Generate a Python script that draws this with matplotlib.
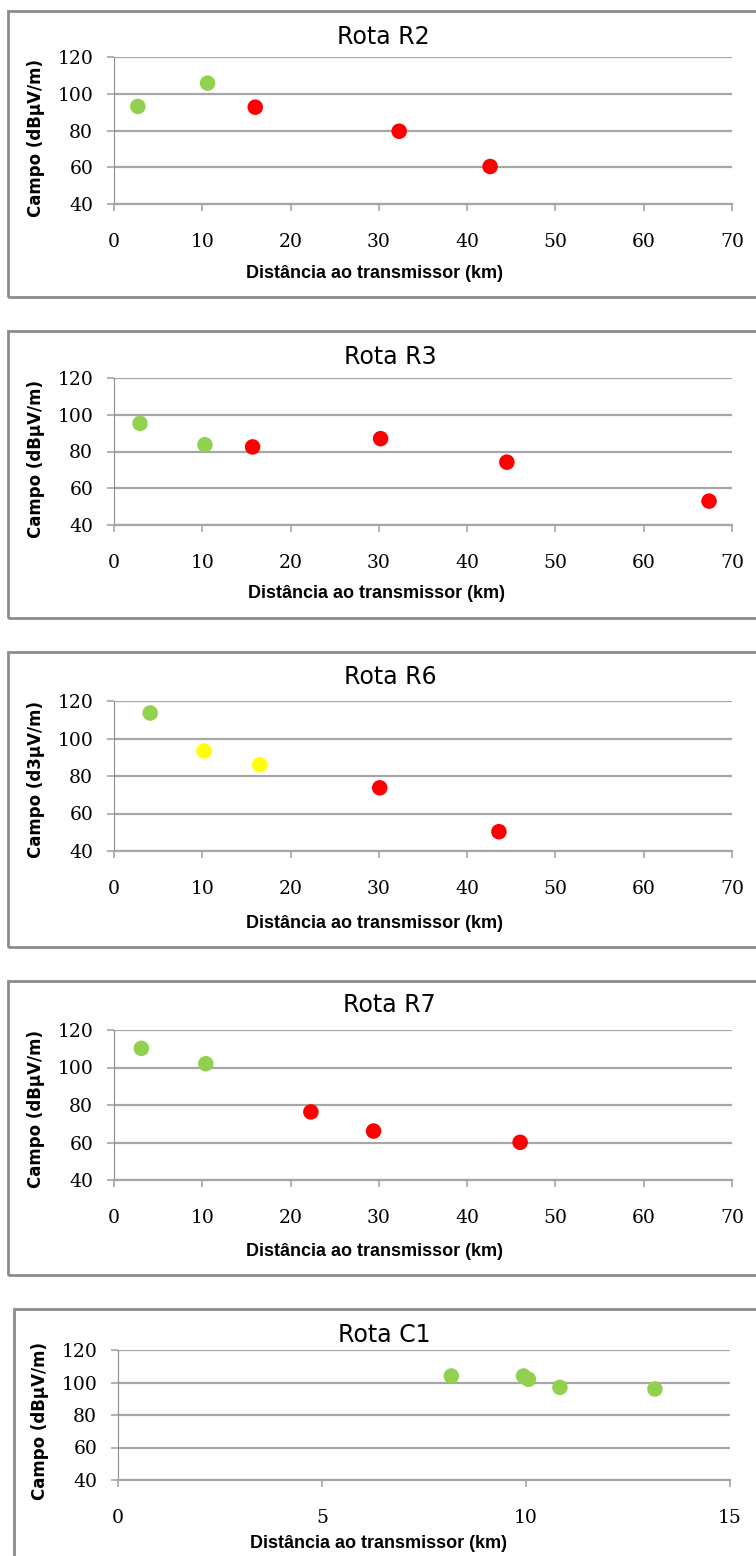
import matplotlib
matplotlib.use('Agg')
import matplotlib.pyplot as plt
from matplotlib.patches import Rectangle

W, H = 756, 1556

GREEN = '#92D050'
RED = '#FF0000'
YELLOW = '#FFFF00'

titles = ['Rota R2', 'Rota R3', 'Rota R6', 'Rota R7', 'Rota C1']
ylabels = ['Campo (dBµV/m)', 'Campo (dBµV/m)', 'Campo (d3µV/m)',
           'Campo (dBµV/m)', 'Campo (dBµV/m)']
xlabel = 'Distância ao transmissor (km)'

# distance (km), field (dBuV/m), point colour
r2_dist = [2.7, 10.6, 16.0, 32.3, 42.6]
r2_field = [93.1, 105.8, 92.7, 79.6, 60.4]
r2_cols = [GREEN, GREEN, RED, RED, RED]

r3_dist = [2.95, 10.3, 15.7, 30.2, 44.5, 67.4]
r3_field = [95.3, 83.7, 82.5, 87.0, 74.2, 53.0]
r3_cols = [GREEN, GREEN, RED, RED, RED, RED]

r6_dist = [4.1, 10.2, 16.5, 30.1, 43.6]
r6_field = [113.6, 93.4, 86.0, 73.7, 50.3]
r6_cols = [GREEN, YELLOW, YELLOW, RED, RED]

r7_dist = [3.1, 10.4, 22.3, 29.4, 46.0]
r7_field = [110.2, 102.0, 76.3, 66.1, 60.1]
r7_cols = [GREEN, GREEN, RED, RED, RED]

c1_dist = [8.17, 9.94, 10.06, 10.83, 13.16]
c1_field = [104.0, 104.0, 102.0, 97.0, 96.0]
c1_cols = [GREEN, GREEN, GREEN, GREEN, GREEN]

yticks = [40, 60, 80, 100, 120]
xticks_r = [0, 10, 20, 30, 40, 50, 60, 70]
xticks_c = [0, 5, 10, 15]

series = [(r2_dist, r2_field, r2_cols, xticks_r),
          (r3_dist, r3_field, r3_cols, xticks_r),
          (r6_dist, r6_field, r6_cols, xticks_r),
          (r7_dist, r7_field, r7_cols, xticks_r),
          (c1_dist, c1_field, c1_cols, xticks_c)]

# pixel layout: box(left, top, bottom), axes(left, right, top, bottom),
# title(x, y), xlabel(x, y), ylabel(x, y)
layout = [
    ((8, 11, 297), (114, 732, 57, 204), (383, 37), (375, 274), (36, 138)),
    ((8, 331, 618), (114, 732, 378, 525), (390, 357), (376, 594), (36, 459)),
    ((8, 652, 947), (114, 732, 701, 851), (390, 677), (375, 923), (36, 780)),
    ((8, 981, 1275), (114, 732, 1030, 1180), (389, 1005), (375, 1252), (36, 1109)),
    ((14, 1309, 1562), (118, 730, 1350, 1480), (384, 1335), (379, 1544), (40, 1421)),
]

GRID = '#a6a6a6'

fig = plt.figure(figsize=(W / 100, H / 100), dpi=100)

for (dist, field, cols, xt), title, ylab, lay in zip(series, titles, ylabels, layout):
    box, axp, tpos, xpos, ypos = lay
    bl, bt, bb = box
    fig.patches.append(Rectangle((bl / W, 1 - bb / H), (W + 10 - bl) / W, (bb - bt) / H,
                                 transform=fig.transFigure, fill=False,
                                 edgecolor='#8c8c8c', linewidth=2))
    al, ar, at, ab = axp
    ax = fig.add_axes([al / W, 1 - ab / H, (ar - al) / W, (ab - at) / H])
    ax.scatter(dist, field, c=cols, s=125, linewidths=0, zorder=3, clip_on=False)
    ax.set_xlim(xt[0], xt[-1])
    ax.set_ylim(40, 120)
    ax.set_xticks(xt)
    ax.set_yticks(yticks)
    ax.grid(axis='y', color=GRID, linewidth=1.6)
    ax.set_axisbelow(True)
    for s in ['top', 'right']:
        ax.spines[s].set_visible(False)
    ax.spines['left'].set_color('#8c8c8c')
    ax.spines['bottom'].set_color(GRID)
    ax.spines['bottom'].set_linewidth(1.6)
    ax.tick_params(axis='y', length=5, width=1.2, color=GRID, pad=10)
    ax.tick_params(axis='x', length=5, width=1.2, color=GRID, pad=16)
    for lab in ax.get_xticklabels() + ax.get_yticklabels():
        lab.set_fontfamily('DejaVu Serif')
        lab.set_fontsize(13.5)
    fig.text(tpos[0] / W, 1 - tpos[1] / H, title, ha='center', va='center',
             fontsize=17, family='DejaVu Sans')
    fig.text(xpos[0] / W, 1 - xpos[1] / H, xlabel, ha='center', va='center',
             fontsize=13, fontweight='bold', family='Liberation Sans')
    fig.text(ypos[0] / W, 1 - ypos[1] / H, ylab, ha='center', va='center',
             rotation=90, fontsize=12, fontweight='bold', family='DejaVu Sans')

fig.savefig('out.png', dpi=100)
